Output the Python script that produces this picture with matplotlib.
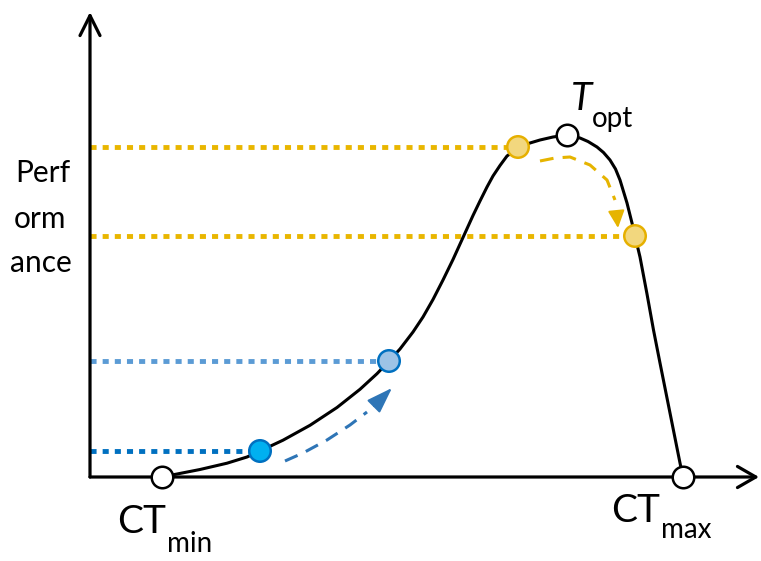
import matplotlib
matplotlib.use("Agg")
import matplotlib.pyplot as plt

# ---------------- data (temperature units, performance units) ----------------
curve_t = [7.2, 8.3, 11.0, 13.7, 15.7, 17.0, 19.3, 22.0, 24.7, 27.0, 28.7, 29.9,
           31.0, 32.3, 33.3, 34.3, 35.3, 36.3, 37.3, 38.3, 39.0, 39.7, 40.3, 41.0,
           41.7, 42.8, 44.0, 45.0, 46.3, 47.7, 49.0, 49.8, 50.7, 51.35, 52.0,
           52.55, 53.0, 53.7, 54.2, 54.5, 55.0, 55.7, 56.35, 57.0, 57.6, 58.2,
           59.0, 59.3]
curve_p = [0.0, 0.22, 0.75, 1.38, 2.0, 2.6, 3.68, 5.17, 6.95, 8.77, 10.33, 11.59,
           12.8, 14.5, 16.0, 17.75, 19.7, 21.75, 23.95, 26.15, 27.6, 29.0, 30.1, 31.15,
           32.1, 32.9, 33.4, 33.7, 34.0, 34.2, 33.9, 33.55, 33.0, 32.45, 31.7,
           30.8, 29.7, 27.4, 25.4, 24.1, 22.0, 18.3, 14.7, 11.4, 8.4, 5.4,
           1.4, 0.0]

open_t = [7.2, 47.7, 59.3]          # CTmin, Topt, CTmax
open_p = [0.0, 34.2, 0.0]

dot_t = [17.0, 29.9, 42.8, 54.5]     # performance read-outs
dot_p = [2.6, 11.6, 33.0, 24.1]
dot_fill = ["#00B0F0", "#9DC3E6", "#F2D77E", "#F2D77E"]
dot_edge = ["#0070C0", "#0070C0", "#E6B000", "#E6B000"]
dot_line = ["#0070C0", "#5B9BD5", "#E9B600", "#E9B600"]

blue_arrow_t = [19.5, 21.3, 23.7, 26.0, 27.7]
blue_arrow_p = [1.6, 2.4, 3.7, 5.2, 6.5]
blue_head_from = (28.4, 7.1)
blue_tip = (30.2, 8.9)

gold_arrow_t = [45.0, 46.5, 48.0, 50.0, 51.7, 52.5]
gold_arrow_p = [31.6, 31.9, 32.0, 31.2, 29.7, 27.7]
gold_head_from = (52.65, 26.4)
gold_tip = (52.8, 24.9)

FONT = "Lato"

# ---------------- figure ----------------
W, H = 761, 561
fig = plt.figure(figsize=(W / 100, H / 100), dpi=100)
ax = fig.add_axes([90 / W, 1 - 477 / H, 671 / W, 465 / H])
ax.set_xlim(0, 67.1)
ax.set_ylim(0, 46.5)
ax.axis("off")

# axes with arrow heads
ax.annotate("", xy=(0, 1.0), xytext=(0, 0), xycoords="axes fraction",
            arrowprops=dict(arrowstyle="->,head_length=0.72,head_width=0.36",
                            mutation_scale=20, lw=2.3, color="black",
                            shrinkA=0, shrinkB=0), zorder=4, annotation_clip=False)
ax.annotate("", xy=(0.997, 0), xytext=(0, 0), xycoords="axes fraction",
            arrowprops=dict(arrowstyle="->,head_length=0.66,head_width=0.38",
                            mutation_scale=20, lw=2.3, color="black",
                            shrinkA=0, shrinkB=0), zorder=4, annotation_clip=False)

# dotted read-out lines
for t, p, c in zip(dot_t, dot_p, dot_line):
    ax.plot([0, t], [p, p], color=c, lw=3.5, linestyle=(0, (1.25, 1.25)),
            solid_capstyle="butt", dash_capstyle="butt", zorder=2)

# performance curve
ax.plot(curve_t, curve_p, color="black", lw=2.2, solid_joinstyle="round",
        solid_capstyle="round", zorder=3)

# dashed arrows
ax.plot(blue_arrow_t, blue_arrow_p, color="#2E75B6", lw=2.2,
        linestyle=(0, (4.5, 3.0)), dash_capstyle="butt", zorder=3)
ax.annotate("", xy=blue_tip, xytext=blue_head_from,
            arrowprops=dict(arrowstyle="-|>,head_length=1.6,head_width=0.55",
                            mutation_scale=10, lw=1.5, color="#2E75B6",
                            shrinkA=0, shrinkB=0), zorder=3)
ax.plot(gold_arrow_t, gold_arrow_p, color="#E6B400", lw=2.2,
        linestyle=(0, (4.5, 3.0)), dash_capstyle="butt", zorder=3)
ax.annotate("", xy=gold_tip, xytext=gold_head_from,
            arrowprops=dict(arrowstyle="-|>,head_length=1.05,head_width=0.5",
                            mutation_scale=10, lw=1.5, color="#E6B400",
                            shrinkA=0, shrinkB=0), zorder=3)

# markers
ax.scatter(dot_t, dot_p, s=15.5 ** 2, c=dot_fill, edgecolors=dot_edge,
           linewidths=1.8, zorder=6, clip_on=False)
ax.scatter(open_t, open_p, s=15.5 ** 2, c="white", edgecolors="black",
           linewidths=1.8, zorder=6, clip_on=False)

# ---------------- texts ----------------
def ftxt(x, y, s, size, style="normal"):
    fig.text(x / W, 1 - y / H, s, fontsize=size, family=FONT, style=style,
             ha="left", va="baseline", color="black")

ftxt(15, 182, "Perf", 21.5)
ftxt(14, 228, "orm", 21.5)
ftxt(10, 272, "ance", 21.5)

ftxt(117, 533, "CT", 28)
ftxt(167, 552, "min", 20)
ftxt(611, 522, "CT", 28)
ftxt(661, 538, "max", 20)
ftxt(571, 110, "T", 28, style="italic")
ftxt(592, 127, "opt", 20)

fig.savefig("out.png", dpi=100, facecolor="white")
